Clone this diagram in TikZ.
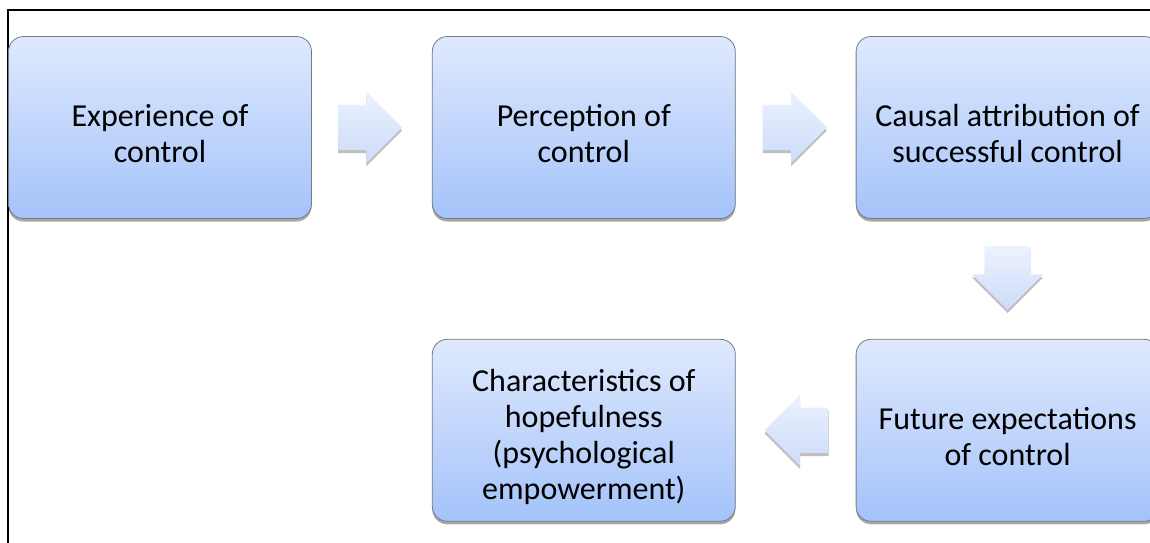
\documentclass[tikz,border=0pt]{standalone}
\usepackage{fontspec}
\setmainfont{Carlito}
\usetikzlibrary{positioning,shapes.arrows,shadows,calc}
\definecolor{BoxTop}{RGB}{223,233,253}
\definecolor{BoxBottom}{RGB}{164,195,250}
\definecolor{BoxEdge}{RGB}{120,124,130}
\definecolor{ArrowTop}{RGB}{236,242,254}
\definecolor{ArrowBottom}{RGB}{204,219,249}
\newcommand{\topgap}{\rule{0pt}{35pt}}

\begin{document}
\begin{tikzpicture}[
  x=1pt, y=1pt,
  node distance=120pt,
  stage/.style={rectangle, rounded corners=15pt, draw=BoxEdge, line width=0.8pt, top color=BoxTop, bottom color=BoxBottom, minimum width=303pt, minimum height=182pt, align=center, font=\fontsize{32}{36}\selectfont, drop shadow={shadow xshift=0pt, shadow yshift=-3pt, opacity=0.35, fill=black}},
  flow/.style={single arrow, single arrow head extend=13pt, inner xsep=0pt, inner ysep=22.5pt, minimum height=64pt, anchor=tail, top color=ArrowTop, bottom color=ArrowBottom, drop shadow={shadow xshift=0pt, shadow yshift=-3pt, opacity=0.25, fill=black}},
  flowdown/.style={flow, shape border rotate=270, inner xsep=22.5pt, inner ysep=0pt}
]
\useasboundingbox (0,0) rectangle (1150,542);
\fill[white] (0,0) rectangle (1150,542);
\clip (0,0) rectangle (1150,542);

% Frame
\draw[line width=1.5pt] (8,-20) rectangle (1170,532);

% Top row
\node[stage] (experience) at (160,414.5) {\topgap Experience of\\control};
\node[stage, right=of experience] (perception) {\topgap Perception of\\control};
\node[stage, right=of perception] (attribution) {\topgap Causal attribution of\\successful control};

% Bottom row
\node[stage, below=of attribution] (expectations) {\topgap Future expectations\\of control};
\node[stage, left=of expectations] (hopefulness) {\topgap Characteristics of\\hopefulness\\(psychological\\empowerment)};

% Arrows
\node[flow] (a1) at ($(experience.east)+(26,0)$) {};
\node[flow] (a2) at ($(perception.east)+(27,0)$) {};
\node[flowdown] (a3) at ($(attribution.south)+(0,-27)$) {};
\node[flow, shape border rotate=180] (a4) at ($(expectations.west)+(-27,0)$) {};

\end{tikzpicture}
\end{document}
